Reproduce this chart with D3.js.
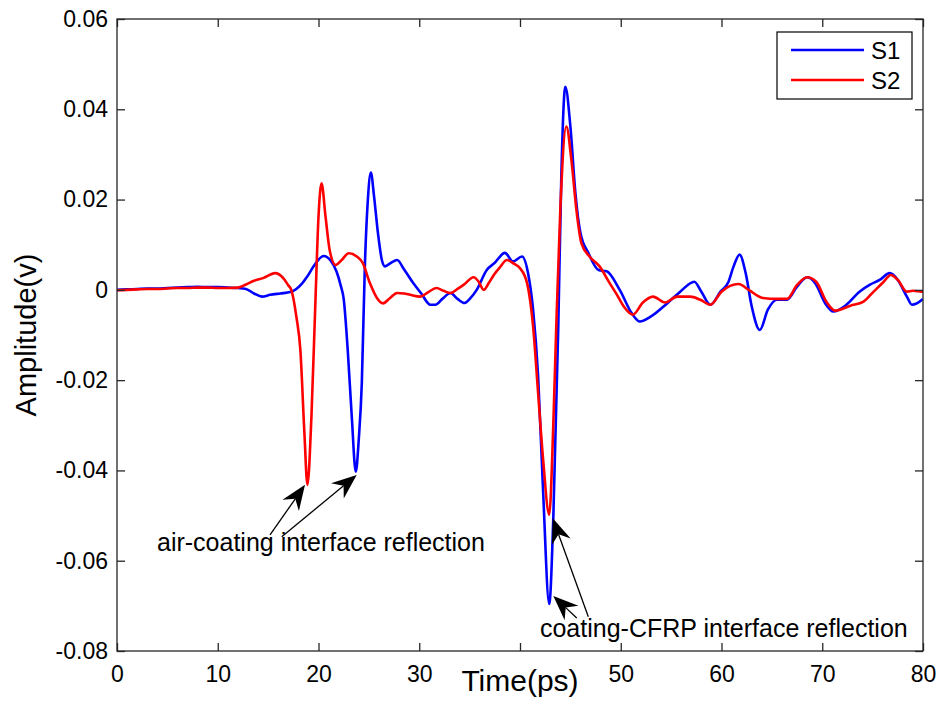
<!DOCTYPE html>
<html>
<head>
<meta charset="utf-8">
<script src="https://cdn.jsdelivr.net/npm/d3@7"></script>
<style>
  html, body { margin: 0; padding: 0; background: #fff; }
  svg { display: block; font-family: Arial, "Liberation Sans", Helvetica, sans-serif; }
</style>
</head>
<body>
<svg id="chart" width="939" height="724"></svg>
<script>
// ---------------- data ----------------
const seriesNames = ["S1", "S2"];
const seriesColors = ["#0000ff", "#ff0000"];

const s1Time = [0,1,2,3,4,5,6,7,8,9,10,11,12,12.8,13.6,14.4,15.2,16.2,17.2,17.8,18.4,18.9,19.6,20.5,21.2,21.8,22.2,22.5,22.9,23.3,23.7,24.0,24.3,24.6,24.9,25.2,25.5,25.9,26.3,26.6,27.2,27.8,28.5,29.4,30.2,31.1,31.6,32.3,33.1,33.8,34.5,35.1,35.7,36.7,37.5,38.5,39.3,40.2,40.8,41.3,41.8,42.3,42.9,43.3,43.8,44.1,44.5,45.0,45.5,46.0,46.8,47.8,48.6,49.9,51.1,51.9,53.0,54.6,55.9,57.3,58.0,58.9,59.9,60.7,61.2,61.8,62.4,63.0,63.8,64.6,65.5,66.5,67.5,68.5,69.3,70.3,71.1,72.4,73.7,74.7,75.7,76.7,77.5,78.4,78.9,79.9,80];
const s1Amp = [0.0000,0.0001,0.0002,0.0003,0.0003,0.0004,0.0005,0.0006,0.0007,0.0006,0.0006,0.0005,0.0004,0.0002,-0.0008,-0.0015,-0.0011,-0.0008,-0.0005,0.0002,0.0015,0.0030,0.0055,0.0075,0.0065,0.0040,0.0010,-0.0020,-0.0133,-0.0280,-0.0403,-0.0330,-0.0206,0.0052,0.0200,0.0260,0.0210,0.0126,0.0065,0.0052,0.0060,0.0066,0.0045,0.0015,-0.0008,-0.0033,-0.0033,-0.0020,-0.0007,-0.0020,-0.0029,-0.0018,0.0000,0.0044,0.0060,0.0082,0.0063,0.0074,0.0037,-0.0044,-0.0192,-0.0450,-0.0696,-0.0510,-0.0081,0.0251,0.0450,0.0362,0.0214,0.0126,0.0081,0.0044,0.0041,0.0000,-0.0052,-0.0070,-0.0059,-0.0030,-0.0004,0.0018,-0.0004,-0.0033,-0.0004,0.0018,0.0052,0.0078,0.0037,-0.0037,-0.0089,-0.0044,-0.0022,-0.0022,0.0007,0.0028,0.0015,-0.0030,-0.0048,-0.0033,-0.0004,0.0011,0.0022,0.0037,0.0022,-0.0015,-0.0033,-0.0022,-0.0020];

const s2Time = [0,1,2,3,4,5,6,7,8,9,10,11,12,12.8,13.6,14.5,15.7,16.5,17.0,17.3,17.8,18.2,18.6,18.9,19.3,19.7,20.0,20.3,20.7,21.1,21.7,22.3,23.0,23.8,24.4,25.1,25.8,26.4,27.1,27.8,28.5,29.1,30.1,30.9,31.7,32.4,33.1,33.8,34.4,35.4,35.9,36.4,36.9,37.4,38.0,38.7,39.4,40.0,40.7,41.3,41.8,42.3,42.9,43.3,43.6,44.0,44.6,45.1,45.6,46.1,46.9,47.9,48.9,49.6,50.3,51.2,52.2,53.2,54.4,55.6,56.9,57.9,58.9,60.0,61.7,62.7,64.1,65.5,66.5,67.5,68.5,69.4,70.4,71.3,72.8,74.1,75.1,76.1,76.8,77.5,78.4,79.0,79.9,80];
const s2Amp = [-0.0001,0.0000,0.0001,0.0002,0.0002,0.0003,0.0004,0.0004,0.0005,0.0005,0.0004,0.0004,0.0005,0.0012,0.0020,0.0026,0.0037,0.0026,0.0010,0.0000,-0.0059,-0.0133,-0.0317,-0.0432,-0.0280,-0.0022,0.0162,0.0236,0.0162,0.0089,0.0055,0.0066,0.0081,0.0074,0.0059,0.0015,-0.0018,-0.0030,-0.0018,-0.0007,-0.0008,-0.0011,-0.0015,-0.0005,0.0004,-0.0002,-0.0007,0.0002,0.0011,0.0028,0.0018,0.0000,0.0015,0.0033,0.0050,0.0066,0.0058,0.0048,0.0015,-0.0081,-0.0229,-0.0377,-0.0498,-0.0303,-0.0081,0.0177,0.0362,0.0288,0.0177,0.0103,0.0074,0.0052,0.0015,-0.0010,-0.0037,-0.0055,-0.0028,-0.0015,-0.0028,-0.0015,-0.0015,-0.0022,-0.0033,-0.0004,0.0013,0.0000,-0.0018,-0.0020,-0.0020,0.0011,0.0028,0.0018,-0.0026,-0.0046,-0.0035,-0.0026,-0.0004,0.0018,0.0033,0.0022,-0.0004,-0.0002,-0.0004,-0.0004];

const xTicks = [0,10,20,30,40,50,60,70,80];
// the "40" label is hidden under the axis title in the reference
const xTickLabels = ["0","10","20","30","","50","60","70","80"];
const yTicks = [-0.08,-0.06,-0.04,-0.02,0,0.02,0.04,0.06];
const yTickLabels = ["-0.08","-0.06","-0.04","-0.02","0","0.02","0.04","0.06"];

const xLabel = "Time(ps)";
const yLabel = "Amplitude(v)";

// annotations: text anchor (data coords) and arrows (tail -> tip, data coords)
const annTexts = ["air-coating interface reflection", "coating-CFRP interface reflection"];
const annTextPos = [[3.97, -0.0578], [41.98, -0.0769]];
const annArrowTails = [[15.19, -0.0543], [16.35, -0.0547], [46.78, -0.0724], [45.63, -0.0727]];
const annArrowTips  = [[18.66, -0.0432], [23.79, -0.0410], [43.25, -0.0506], [43.31, -0.0678]];

// ---------------- layout ----------------
const svg = d3.select("#chart");
const mLeft = 117, mRight = 923, mTop = 19, mBottom = 651;
const x = d3.scaleLinear().domain([0, 80]).range([mLeft, mRight]);
const y = d3.scaleLinear().domain([-0.08, 0.06]).range([mBottom, mTop]);
const axisColor = "#262626";
const tickLen = 8;

svg.append("defs").append("clipPath").attr("id", "clip")
  .append("rect").attr("x", mLeft).attr("y", mTop).attr("width", mRight - mLeft).attr("height", mBottom - mTop);

// ---------------- lines ----------------
const series = [
  s1Time.map((t, i) => [t, s1Amp[i]]),
  s2Time.map((t, i) => [t, s2Amp[i]])
];
const line = d3.line().x(d => x(d[0])).y(d => y(d[1])).curve(d3.curveMonotoneX);
const gLines = svg.append("g").attr("clip-path", "url(#clip)");
series.forEach((s, i) => {
  gLines.append("path").datum(s)
    .attr("d", line)
    .attr("fill", "none")
    .attr("stroke", seriesColors[i])
    .attr("stroke-width", 2.6)
    .attr("stroke-linejoin", "round");
});

// ---------------- axes ----------------
const fmtY = (d) => yTickLabels[yTicks.indexOf(d)];
const fmtX = (d) => xTickLabels[xTicks.indexOf(d)];
const gxB = svg.append("g").attr("transform", `translate(0,${mBottom})`)
  .call(d3.axisBottom(x).tickValues(xTicks).tickSize(-tickLen).tickPadding(15).tickFormat(fmtX));
const gxT = svg.append("g").attr("transform", `translate(0,${mTop})`)
  .call(d3.axisTop(x).tickValues(xTicks).tickSize(-tickLen).tickFormat(""));
const gyL = svg.append("g").attr("transform", `translate(${mLeft},0)`)
  .call(d3.axisLeft(y).tickValues(yTicks).tickSize(-tickLen).tickPadding(9).tickFormat(fmtY));
const gyR = svg.append("g").attr("transform", `translate(${mRight},0)`)
  .call(d3.axisRight(y).tickValues(yTicks).tickSize(-tickLen).tickFormat(""));

[gxB, gxT, gyL, gyR].forEach(g => {
  g.select(".domain").remove();
  g.selectAll(".tick line").attr("stroke", axisColor).attr("stroke-width", 1.3);
  g.selectAll(".tick text").attr("fill", "#000").style("font-size", "23px")
    .style("font-family", "Arial, 'Liberation Sans', sans-serif");
});
svg.append("rect").attr("x", mLeft).attr("y", mTop).attr("width", mRight - mLeft).attr("height", mBottom - mTop)
  .attr("fill", "none").attr("stroke", axisColor).attr("stroke-width", 1.3);

// axis labels
svg.append("text").attr("x", (mLeft + mRight) / 2).attr("y", 691)
  .attr("text-anchor", "middle").style("font-size", "30px").attr("fill", "#000").text(xLabel);
svg.append("text").attr("transform", `translate(36,${(mTop + mBottom) / 2}) rotate(-90)`)
  .attr("text-anchor", "middle").style("font-size", "29px").attr("fill", "#000").text(yLabel);

// ---------------- annotations ----------------
function arrow(tail, tip) {
  const x0 = x(tail[0]), y0 = y(tail[1]), x1 = x(tip[0]), y1 = y(tip[1]);
  const ang = Math.atan2(y1 - y0, x1 - x0);
  const L = 25, W = 10, notch = 17;
  const ux = Math.cos(ang), uy = Math.sin(ang), px = -uy, py = ux;
  const bx = x1 - ux * L, by = y1 - uy * L;
  const nx = x1 - ux * notch, ny = y1 - uy * notch;
  svg.append("line").attr("x1", x0).attr("y1", y0).attr("x2", nx).attr("y2", ny)
    .attr("stroke", "#000").attr("stroke-width", 1.3);
  svg.append("path")
    .attr("d", `M${x1},${y1} L${bx + px * W},${by + py * W} L${nx},${ny} L${bx - px * W},${by - py * W} Z`)
    .attr("fill", "#000");
}
annArrowTails.forEach((t, i) => arrow(t, annArrowTips[i]));

annTexts.forEach((t, i) => {
  svg.append("text").attr("x", x(annTextPos[i][0])).attr("y", y(annTextPos[i][1]))
    .style("font-size", "25px").attr("fill", "#000").text(t);
});

// ---------------- legend ----------------
const lg = svg.append("g");
lg.append("rect").attr("x", 777).attr("y", 32).attr("width", 135).attr("height", 67)
  .attr("fill", "#fff").attr("stroke", "#000").attr("stroke-width", 1.2);
seriesNames.forEach((n, i) => {
  const yy = 50 + i * 30;
  lg.append("line").attr("x1", 791).attr("x2", 864).attr("y1", yy).attr("y2", yy)
    .attr("stroke", seriesColors[i]).attr("stroke-width", 2.6);
  lg.append("text").attr("x", 871).attr("y", yy).attr("dy", "0.36em")
    .style("font-size", "24px").attr("fill", "#000").text(n);
});
</script>
</body>
</html>
